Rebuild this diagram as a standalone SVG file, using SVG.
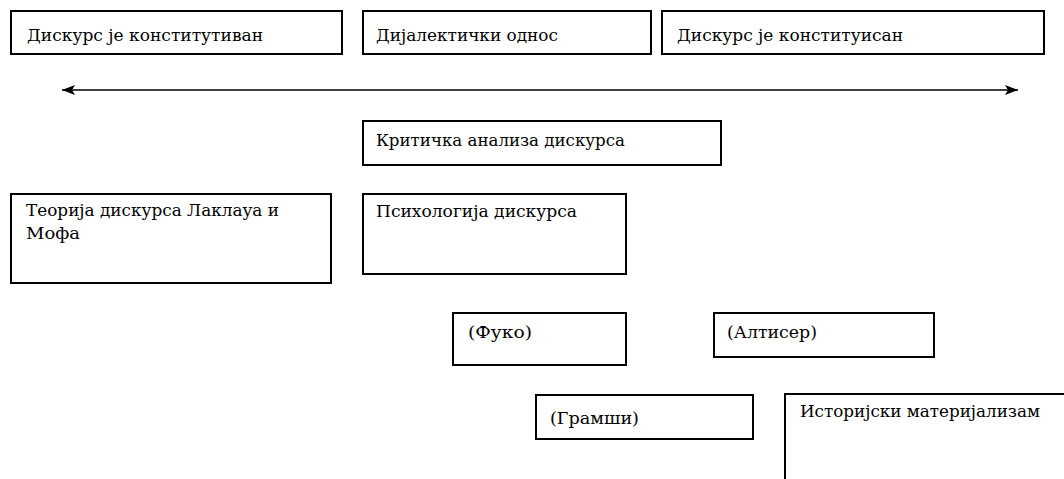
<svg xmlns="http://www.w3.org/2000/svg" width="1064" height="479" viewBox="0 0 1064 479">
<style>
.box{fill:#fff;stroke:#000;stroke-width:2}
.t{font-family:"DejaVu Serif","Liberation Serif","Times New Roman",serif;font-size:17px;fill:#000}
.conn{stroke:#000;stroke-width:1.6;fill:none}
</style>
<defs>
<marker id="ah" viewBox="0 0 13 10" refX="13" refY="5" markerWidth="13" markerHeight="10" markerUnits="userSpaceOnUse" orient="auto-start-reverse">
<path d="M0,0 L13,5 L0,10 L3,5 Z" fill="#000"/>
</marker>
</defs>
<rect width="1064" height="479" fill="#fff"/>
<g id="n1"><rect class="box" x="11" y="11" width="331" height="43"/><text class="t" x="27" y="41" textLength="236" lengthAdjust="spacingAndGlyphs">Дискурс је конститутиван</text></g>
<g id="n2"><rect class="box" x="363" y="11" width="288" height="43"/><text class="t" x="376" y="41" textLength="182" lengthAdjust="spacingAndGlyphs">Дијалектички однос</text></g>
<g id="n3"><rect class="box" x="662" y="11" width="382" height="43"/><text class="t" x="677" y="41" textLength="226" lengthAdjust="spacingAndGlyphs">Дискурс је конституисан</text></g>
<g id="connectors"><line class="conn" x1="62" y1="90" x2="1018" y2="90" marker-start="url(#ah)" marker-end="url(#ah)"/></g>
<g id="n4"><rect class="box" x="363" y="121" width="358" height="44"/><text class="t" x="376" y="146" textLength="249" lengthAdjust="spacingAndGlyphs">Критичка анализа дискурса</text></g>
<g id="n5"><rect class="box" x="11" y="194" width="320" height="89"/><text class="t" x="26" y="216" textLength="253" lengthAdjust="spacingAndGlyphs">Теорија дискурса Лаклауа и</text><text class="t" x="26" y="239" textLength="54" lengthAdjust="spacingAndGlyphs">Мофа</text></g>
<g id="n6"><rect class="box" x="363" y="194" width="263" height="80"/><text class="t" x="376" y="217" textLength="201" lengthAdjust="spacingAndGlyphs">Психологија дискурса</text></g>
<g id="n7"><rect class="box" x="453" y="313" width="173" height="52"/><text class="t" x="468" y="338" textLength="64" lengthAdjust="spacingAndGlyphs">(Фуко)</text></g>
<g id="n8"><rect class="box" x="714" y="313" width="220" height="44"/><text class="t" x="727" y="338" textLength="90" lengthAdjust="spacingAndGlyphs">(Алтисер)</text></g>
<g id="n9"><rect class="box" x="536" y="395" width="217" height="44"/><text class="t" x="550" y="424" textLength="89" lengthAdjust="spacingAndGlyphs">(Грамши)</text></g>
<g id="n10"><path class="box" d="M785,481 L785,394 L1066,394"/><text class="t" x="800" y="417" textLength="240" lengthAdjust="spacingAndGlyphs">Историјски материјализам</text></g>
</svg>
